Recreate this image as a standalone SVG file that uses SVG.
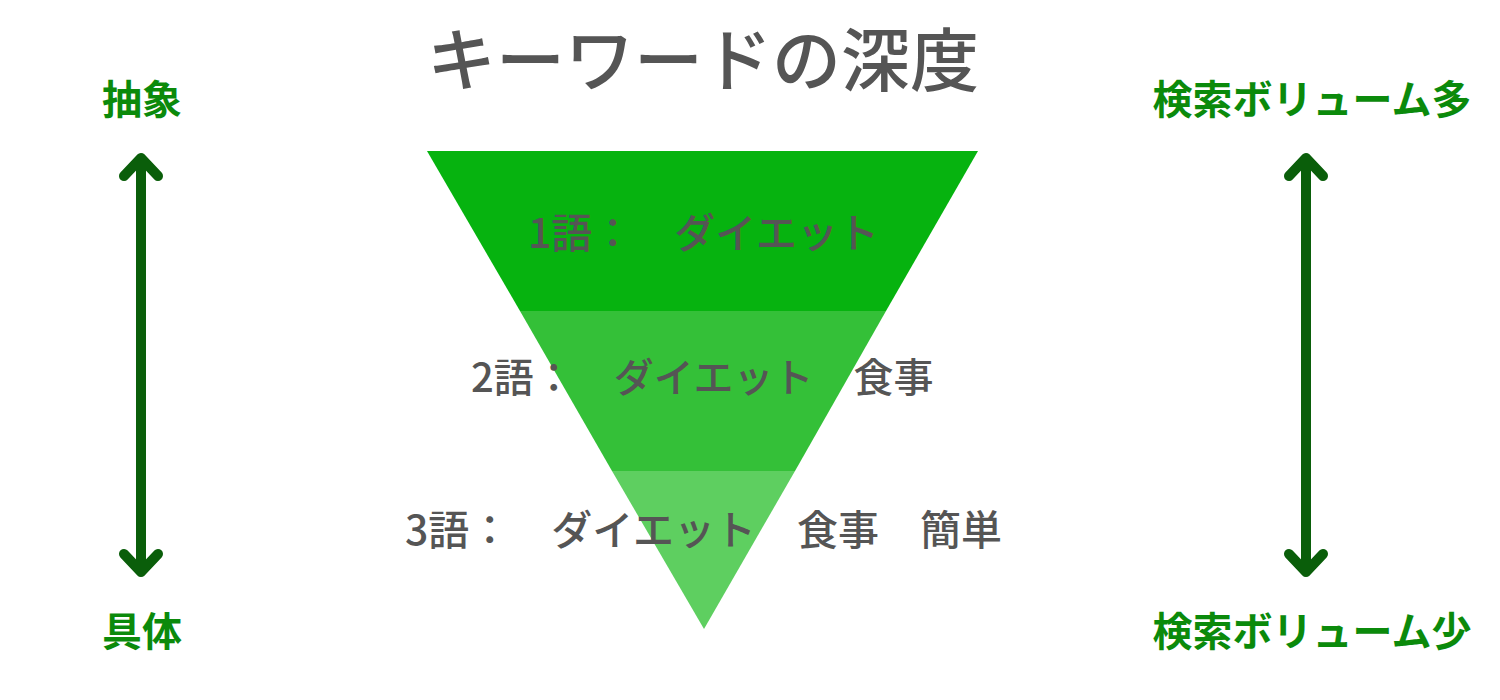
<svg xmlns="http://www.w3.org/2000/svg" width="1500" height="700" viewBox="0 0 1500 700">
<style>
.t{font-family:"Noto Sans CJK JP","Noto Sans",sans-serif;}
.title{font-size:69px;font-weight:500;fill:#555555;}
.row{font-size:41px;font-weight:500;fill:#555555;}
.lab{font-size:40px;font-weight:700;fill:#0b8a0b;}
.arr{stroke:#0a5e0a;stroke-width:10;stroke-linecap:round;stroke-linejoin:round;fill:none;}
</style>
<rect width="1500" height="700" fill="#ffffff"/>
<g id="title"><text class="t title" x="703" y="86" text-anchor="middle">キーワードの深度</text></g>
<g id="funnel">
<polygon id="band1" points="427,151 978,151 886,311 520,311" fill="#06b30f"/>
<polygon id="band2" points="520,311 886,311 795,471 612,471" fill="#34c038"/>
<polygon id="band3" points="612,471 795,471 704,629" fill="#5ecf60"/>
</g>
<g id="rows">
<text class="t row" x="528" y="248">1語：　ダイエット</text>
<text class="t row" x="471" y="392" style="font-size:40px">2語：　ダイエット　食事</text>
<text class="t row" x="405" y="545">3語：　ダイエット　食事　簡単</text>
</g>
<g id="labels">
<text class="t lab" x="142" y="114" text-anchor="middle">抽象</text>
<text class="t lab" x="142" y="646" text-anchor="middle">具体</text>
<text class="t lab" x="1312" y="114" text-anchor="middle">検索ボリューム多</text>
<text class="t lab" x="1312" y="646" text-anchor="middle">検索ボリューム少</text>
</g>
<g id="connectors">
<path class="arr" d="M141,160 V570 M124,176 L141,158 L158,176 M124,554 L141,572 L158,554"/>
<path class="arr" d="M1306,160 V570 M1289,176 L1306,158 L1323,176 M1289,554 L1306,572 L1323,554"/>
</g>
</svg>
